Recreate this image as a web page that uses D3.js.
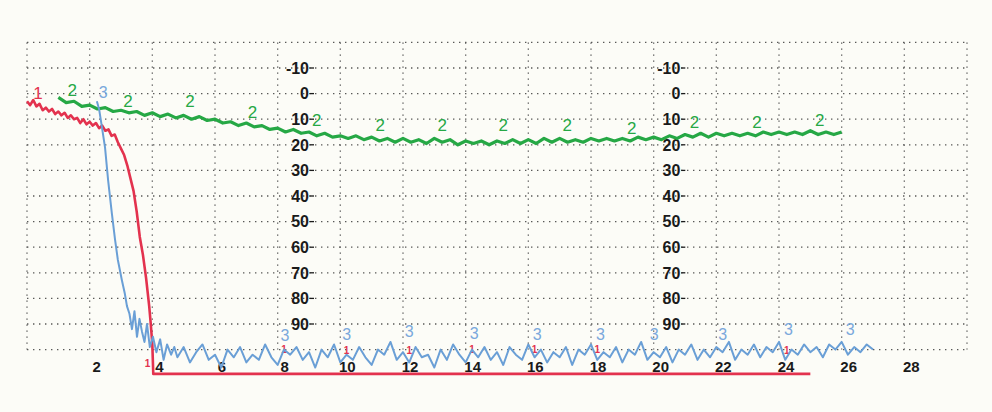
<!DOCTYPE html>
<html>
<head>
<meta charset="utf-8">
<script src="https://cdn.jsdelivr.net/npm/d3@7"></script>
<style>
  html, body { margin: 0; padding: 0; background: #fcfcf7; }
  svg { display: block; }
</style>
</head>
<body>
<svg id="chart" width="992" height="412"></svg>
<script>
// ---------------- DATA ----------------
// x-axis tick labels and y-axis tick labels
const xTicks = [2, 4, 6, 8, 10, 12, 14, 16, 18, 20, 22, 24, 26, 28];
const yTicks = [-10, 0, 10, 20, 30, 40, 50, 60, 70, 80, 90];
// y-label columns (x position in data units where the labels end)
const yLabelCols = [9.0, 20.85];

// Series 1 (red)
const redX = [0,0.1,0.2,0.3,0.4,0.5,0.6,0.7,0.8,0.9,1.0,1.1,1.2,1.3,1.4,1.5,1.6,1.7,1.8,1.9,2.0,2.1,2.2,2.3,2.4,2.5,2.6,2.7,2.8,2.9,3.0,3.1,3.2,3.3,3.4,3.5,3.6,3.7,3.8,3.9,3.95,4.0,4.03,25.0];
const redY = [3,4.5,2.5,5,4,6.5,5.5,7,6,8,7,8.5,7.5,9.5,8.5,10,9.5,11.5,10,12,11,12.5,11.5,13.5,12.5,14.5,14,16.5,16,19,21.5,24,28,33,38,46,56,63,72,83,90,98,109.5,109.5];

// Series 2 (green), sampled every 0.25 from 1.0
const greenStart = 1.0, greenStep = 0.25;
const greenY = [1.5,3.5,3,5,4.5,6,5.5,7,6.5,7.5,7,8.5,7.5,9,8,9.5,8.5,10,9,10.5,
  10,11.5,11,12.5,11.5,13,12.5,14,13.5,15,14,15.5,15,16.5,15.5,17,16.5,17.5,16.5,18,
  17,18.5,17.5,19,17.5,19,18,19.5,17.5,19,18,20,18.5,19.5,18.5,20,18.5,19.5,18,19.5,
  18,19.5,17.5,19,17.5,19,18,19,17.5,18.5,17.5,18.5,17.5,18.5,17,18,17,18,16.5,17.5,
  16,17,15.5,17,15.5,16.5,15.5,16.5,15.5,16.5,15,16,15,16,15,16,14.5,16,15,16,15];

// Series 3 (blue): steep drop, then noisy plateau sampled every 0.2 from 4.8
const blueDropX = [2.23,2.3,2.39,2.49,2.59,2.71,2.81,2.9,3.03,3.12,3.19,3.27,3.35,3.43,3.51,3.59,3.67,3.75,3.83,3.92,4.02,4.13,4.25,4.36,4.47,4.6,4.7];
const blueDropY = [3,6,13,21,34,47,57,65,73,78,83,86,92,85,95,88,93,97,90,99,95,101,96,104,98,102,99];
const blueStart = 4.8, blueStep = 0.2;
const blueY = [103,99,105,101,98,104,102,107,100,103,
  99,105,102,104,98,103,106,100,102,99,
  104,101,107,100,103,98,105,102,104,99,
  103,106,100,102,97,104,101,105,99,103,
  102,107,100,104,98,102,105,100,103,99,
  104,101,106,99,102,104,98,103,100,105,
  101,103,99,106,100,102,98,104,101,103,
  99,105,100,102,97,104,101,103,99,105,
  100,102,98,104,100,103,99,101,97,104,
  100,102,98,103,99,101,97,104,100,102,
  98,101,99,103,98,100,97,102,99,101,
  98,100];

// Series label annotations (data coordinates)
const redTopLabel = [0.35, -0.2];
const redLabelX = [3.85, 8.2, 10.2, 12.2, 14.2, 16.2, 18.2, 24.25];
const redLabelY = [105.5, 100, 100.2, 100.2, 100, 99.8, 100, 100.2];
const greenLabelX = [1.44, 3.22, 5.2, 7.2, 9.25, 11.27, 13.25, 15.2, 17.24, 19.3, 21.3, 23.3, 25.3];
const greenLabelY = [-1.4, 2.9, 2.9, 7.2, 10.3, 12.3, 12.3, 12.3, 12.3, 13.4, 11.1, 11.1, 10.3];
const blueLabelX = [2.43, 8.23, 10.2, 12.2, 14.27, 16.28, 18.3, 20.02, 22.2, 24.3, 26.27];
const blueLabelY = [-0.6, 94.5, 94, 93, 93.5, 94, 94, 94, 94, 92, 92];

// ---------------- DRAW ----------------
const svg = d3.select("#chart");
const x = d3.scaleLinear().domain([0, 30]).range([27, 967]);
const y = d3.scaleLinear().domain([-20, 100]).range([42.4, 349.6]);

const RED = "#e3324e", GREEN = "#26a845", BLUE = "#6a9fd6", BLUE_LBL = "#7aa8dc";
const font = "'Liberation Sans', Arial, sans-serif";

// grid
const grid = svg.append("g").attr("stroke", "#3c3c3c").attr("stroke-width", 1.3)
  .attr("stroke-dasharray", "1.4,4.6").attr("fill", "none").attr("opacity", 0.85);
grid.selectAll("line.h").data(d3.range(-20, 101, 10)).join("line").attr("class", "h")
  .attr("x1", x(0)).attr("x2", x(30)).attr("y1", d => y(d)).attr("y2", d => y(d));
grid.selectAll("line.v").data(d3.range(0, 31, 2)).join("line").attr("class", "v")
  .attr("x1", d => x(d)).attr("x2", d => x(d)).attr("y1", y(-20)).attr("y2", y(100));

// x tick labels
svg.append("g").selectAll("text").data(xTicks).join("text")
  .attr("x", d => x(d) + 7).attr("y", y(100) + 22)
  .attr("text-anchor", "middle").attr("font-family", font).attr("font-weight", "bold")
  .attr("font-size", 15).attr("fill", "#1a1a1a").text(d => d);

// y tick labels (two columns)
yLabelCols.forEach(c => {
  const g = svg.append("g");
  g.selectAll("text").data(yTicks).join("text")
    .attr("x", x(c)).attr("y", d => y(d)).attr("dy", "0.36em")
    .attr("text-anchor", "end").attr("font-family", font).attr("font-weight", "bold")
    .attr("font-size", 16).attr("fill", "#1a1a1a").text(d => d);
  g.selectAll("line").data(yTicks).join("line")
    .attr("x1", x(c) + 1).attr("x2", x(c) + 5).attr("y1", d => y(d)).attr("y2", d => y(d))
    .attr("stroke", "#1a1a1a").attr("stroke-width", 1.3);
});

const line = d3.line().x(d => x(d[0])).y(d => y(d[1]));

// red series
svg.append("path").datum(redX.map((v, i) => [v, redY[i]]))
  .attr("d", line).attr("fill", "none").attr("stroke", RED).attr("stroke-width", 2.6)
  .attr("stroke-linejoin", "round");
svg.append("text").attr("x", x(redTopLabel[0])).attr("y", y(redTopLabel[1])).attr("dy", "0.36em")
  .attr("text-anchor", "middle").attr("font-family", font).attr("font-size", 17)
  .attr("fill", RED).text("1");
svg.append("g").selectAll("text").data(redLabelX).join("text")
  .attr("x", d => x(d)).attr("y", (d, i) => y(redLabelY[i])).attr("dy", "0.36em")
  .attr("text-anchor", "middle").attr("font-family", font).attr("font-size", 10)
  .attr("font-weight", "bold").attr("fill", RED).text("1");

// green series
const greenData = greenY.map((v, i) => [greenStart + i * greenStep, v]);
svg.append("path").datum(greenData)
  .attr("d", line).attr("fill", "none").attr("stroke", GREEN).attr("stroke-width", 3.2)
  .attr("stroke-linejoin", "round");
svg.append("g").selectAll("text").data(greenLabelX).join("text")
  .attr("x", d => x(d)).attr("y", (d, i) => y(greenLabelY[i])).attr("dy", "0.36em")
  .attr("text-anchor", "middle").attr("font-family", font).attr("font-size", 17)
  .attr("fill", GREEN).text("2");

// blue series
const blueData = blueDropX.map((v, i) => [v, blueDropY[i]])
  .concat(blueY.map((v, i) => [blueStart + i * blueStep, v]));
svg.append("path").datum(blueData)
  .attr("d", line).attr("fill", "none").attr("stroke", BLUE).attr("stroke-width", 2)
  .attr("stroke-linejoin", "round");
svg.append("g").selectAll("text").data(blueLabelX).join("text")
  .attr("x", d => x(d)).attr("y", (d, i) => y(blueLabelY[i])).attr("dy", "0.36em")
  .attr("text-anchor", "middle").attr("font-family", font).attr("font-size", 16)
  .attr("fill", BLUE_LBL).text("3");
</script>
</body>
</html>
